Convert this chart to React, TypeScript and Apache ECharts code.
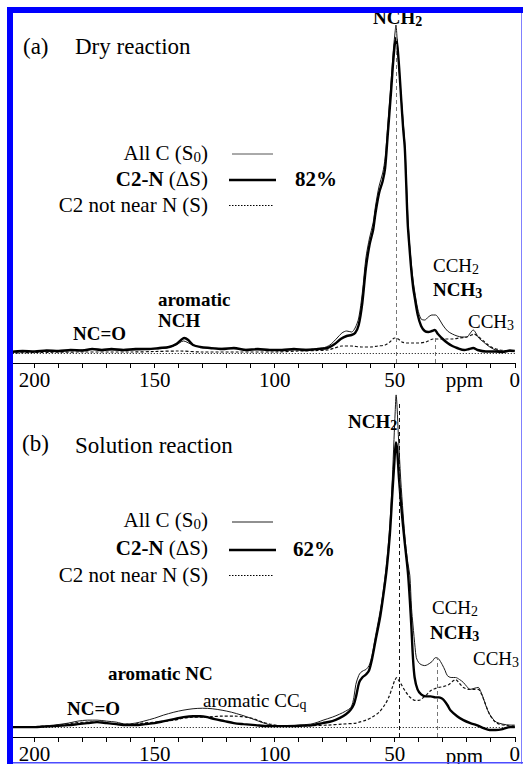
import React, { useEffect, useRef } from "react";
import * as echarts from "echarts";

// ---------- Panel (a): Dry reaction ----------
const ppmA_allC = [210, 200, 190, 180, 175, 170, 160, 150, 145, 141, 138, 135, 131, 125, 115, 105, 95, 85, 80, 77, 74, 72, 70, 68, 66.5, 65, 63.5, 62, 60.5, 59, 58, 56.5, 55, 54, 53, 51.5, 50.5, 49.8, 49.5, 49.1, 48.5, 47.5, 46.5, 45.8, 45.3, 44.6, 44, 43.1, 42.3, 41.7, 40.4, 39, 37.5, 36, 34.5, 33, 31.5, 30, 28, 26, 24, 22, 20, 18.5, 17.3, 16.2, 15, 13, 11, 8, 5, 2, 0];
const intA_allC = [1, 1.5, 2, 3, 4, 3, 3, 4, 5, 8, 12, 9, 6, 5, 4, 3, 3, 4, 5, 8, 15, 20, 22, 21, 25, 35, 60, 95, 115, 130, 147, 167, 180, 195, 225, 272, 305, 322, 328, 318, 295, 262, 232, 210, 182, 140, 115, 90, 72, 62, 44, 34, 33, 36, 38, 38, 34, 28, 22, 19, 17, 16, 16, 20, 23, 20, 15, 11, 7, 3, 2, 2, 2];

const ppmA_C2N = [210, 205, 200, 195, 190, 185, 180, 176, 172, 168, 163, 158, 153, 148, 144, 141, 139, 137.7, 136, 134, 131, 127, 122, 117, 112, 107, 102, 97, 92, 87, 82, 78, 75, 72.5, 70, 68, 66.5, 65, 63.5, 62, 60.5, 59, 58, 56.5, 55, 54, 53, 51.5, 50.5, 49.5, 48.8, 48, 47.2, 46.5, 45.8, 45.3, 44.6, 44, 43.1, 42.3, 41.7, 40.4, 39, 37.5, 36, 34.5, 33.3, 32, 30, 28, 26, 24, 21, 19, 17.3, 15.5, 12, 8, 5, 2, 0];
const intA_C2N = [1, 2, 1.5, 2.5, 2, 3, 2.5, 4, 3, 4, 3, 4, 4, 5, 6, 9, 13, 15, 13, 8, 6, 5, 4, 5, 3, 4, 3, 3, 4, 3, 4, 5, 9, 14, 17, 18, 20, 28, 50, 85, 108, 123, 140, 160, 172, 185, 215, 262, 295, 315, 305, 280, 250, 225, 205, 175, 130, 110, 83, 65, 56, 38, 27, 22, 21, 22, 23, 19, 14, 10, 7, 5, 3, 4, 5, 3, 1.5, 1.5, 1, 2.5, 2];

const ppmA_notN = [210, 200, 180, 160, 150, 140, 130, 115, 100, 90, 82, 78, 75, 72, 68, 64, 60, 57, 54, 52, 50, 48.5, 47, 45, 42, 40, 37, 34, 32, 29, 26, 23, 20, 18, 17, 15.5, 13, 11, 9, 6, 3, 0];
const intA_notN = [0, 0.5, 1, 1, 1.5, 2, 1, 1, 1, 2, 2.5, 3, 5, 7, 7, 6, 6, 7, 8, 11, 15, 14, 11, 10, 10, 10, 11, 14, 14, 14, 14, 15, 16, 18, 19, 17, 12, 8, 5, 3, 2, 1];

const markerPpmA = [49.5, 33.2];
const markerTopA = [320, 16];

// ---------- Panel (b): Solution reaction ----------
const ppmB_allC = [210, 200, 192, 186, 182, 178, 174, 170, 166, 162, 158, 154.5, 150, 146.4, 142, 138.2, 134, 130, 126, 121.9, 118, 113.7, 110, 105.6, 101.5, 95, 90, 85, 82, 79.8, 76, 73, 70.5, 68.2, 67, 66.2, 65, 64.2, 63, 62, 60.7, 59.5, 58, 56, 54.5, 53.3, 52, 51, 50.3, 49.8, 49.4, 49, 48.5, 47.5, 46.5, 45.5, 44.5, 43.7, 43, 42.4, 41.5, 41, 40, 39, 37.5, 36.3, 34.5, 33, 31.8, 30.2, 29, 28.1, 26.5, 24.7, 23, 21.4, 20, 18.6, 17, 15.2, 14.2, 13.2, 11.8, 10.5, 9, 7.7, 5, 2, 0];
const intB_allC = [0, 0.5, 2, 4, 6, 7, 7, 6, 5, 3, 4, 6, 9, 12, 15, 17, 18.5, 19, 18.5, 17, 15, 12, 9, 5, 2, 1, 2, 3, 5, 7, 10, 13, 16, 20, 30, 43, 52, 55, 57, 58, 62, 72, 92, 118, 143, 168, 205, 250, 290, 318, 335, 322, 295, 250, 215, 185, 165, 153, 120, 103, 80, 70, 65, 63, 62, 63, 66, 70, 69, 63, 57, 52, 50, 50, 48, 45, 41, 38, 39, 40, 36, 30, 20, 13, 8, 5, 3, 2, 2];

const ppmB_C2N = [210, 200, 192, 186, 182, 178, 174, 170, 166, 162, 158, 154, 150, 146, 142, 138, 134, 131, 128, 125, 121, 117, 113, 108, 103, 95, 88, 84, 80, 76, 73, 70.3, 68.5, 67, 66, 64.8, 63.5, 62, 60.7, 59.5, 58, 56, 54.5, 53.3, 52, 51, 50.2, 49.5, 49, 48.2, 47, 46, 45.1, 44.4, 43.7, 43.1, 42.4, 41.7, 40.5, 39, 37, 35, 33, 31.6, 30.5, 29.5, 28, 26.8, 24, 21.4, 18.5, 15.9, 13, 10.5, 8, 5, 2, 0];
const intB_C2N = [0, 0, 1, 2, 3, 4, 5, 4, 3, 2, 2, 3, 4, 6, 8, 10, 11, 11, 10, 8, 6, 4, 3, 2, 1, 1, 1.5, 2, 4, 6, 9, 13, 17, 23, 32, 45, 50, 53, 57, 68, 87, 112, 137, 160, 195, 235, 265, 287, 280, 250, 215, 190, 170, 153, 128, 103, 70, 50, 38, 33, 31, 31, 30, 30, 29, 27, 22, 17, 11, 7, 4, 2, -1, -3, -3, -2, 0, 0];

const ppmB_notN = [210, 200, 190, 184, 178, 172, 166, 160, 155, 150, 146, 142, 138, 134, 130, 126, 122, 116.4, 112, 108.3, 105, 102, 98, 90, 84, 78, 72, 66, 64.8, 62, 59.4, 56.5, 54, 52.5, 51, 50, 49.1, 48.3, 47, 45.8, 44, 42.5, 41.7, 40, 39, 37, 34.9, 33, 31.6, 29.5, 27.4, 26, 24.7, 23, 21.4, 19, 17, 15.2, 14, 12.5, 10.5, 8.5, 6.5, 3, 0];
const intB_notN = [0, 0.5, 2, 4, 5, 5, 3, 3, 4, 5, 6, 7, 9, 10, 10, 10.5, 11, 11, 10, 8, 5, 3, 1.5, 1, 1.5, 2, 3, 4, 5, 7, 10, 15, 23, 30, 40, 47, 50, 47, 42, 37, 31, 28, 27, 27, 28, 32, 37, 39, 40, 41, 43, 46, 48, 44, 40, 38, 38, 38, 34, 25, 13, 6, 3, 1.5, 1];

const markerPpmB = [48.3, 32.1];
const markerTopB = [327, 70];

const xTickValues = [200, 150, 100, 50, 0];

const FF = "Liberation Serif";

const zip = (xs: number[], ys: number[]) => xs.map((x, i) => [x, ys[i]]);

const rich = {
  n: { fontFamily: FF, fontSize: 21, lineHeight: 22, fill: "#000" },
  b: { fontFamily: FF, fontSize: 21, fontWeight: "bold", lineHeight: 22, fill: "#000" },
  s: { fontFamily: FF, fontSize: 15, lineHeight: 8, verticalAlign: "bottom", fill: "#000" },
  pn: { fontFamily: FF, fontSize: 19, lineHeight: 22, fill: "#000" },
  pb: { fontFamily: FF, fontSize: 19, fontWeight: "bold", lineHeight: 22, fill: "#000" },
  ps: { fontFamily: FF, fontSize: 14, lineHeight: 8, verticalAlign: "bottom", fill: "#000" },
  pbs: { fontFamily: FF, fontSize: 14, fontWeight: "bold", lineHeight: 8, verticalAlign: "bottom", fill: "#000" },
  t: { fontFamily: FF, fontSize: 23, lineHeight: 24, fill: "#000" },
};

function txt(x: number, y: number, text: string, align: string = "left") {
  return {
    type: "text",
    x,
    y,
    z: 20,
    silent: true,
    style: {
      text,
      rich,
      align,
      verticalAlign: "middle",
      textAlign: align,
      textVerticalAlign: "middle",
      fill: "#000",
      fontFamily: FF,
      fontSize: 21,
    },
  };
}

function seg(x1: number, y1: number, x2: number, y2: number, width: number, dash?: number[], color = "#000") {
  return {
    type: "line",
    z: 20,
    silent: true,
    shape: { x1, y1, x2, y2 },
    style: { stroke: color, lineWidth: width, lineDash: dash || null },
  };
}

function spectrumSeries(idx: number, allC: number[][], c2n: number[][], notN: number[][], mPpm: number[], mTop: number[], markerColors: string[]) {
  return [
    {
      type: "line",
      name: "All C",
      xAxisIndex: idx,
      yAxisIndex: idx,
      data: allC,
      showSymbol: false,
      smooth: 0.3,
      lineStyle: { color: "#1a1a1a", width: 1 },
      z: 3,
      markLine: {
        silent: true,
        symbol: "none",
        label: { show: false },
        data: [
          [
            { coord: [mPpm[0], -10], lineStyle: { color: markerColors[0], type: [4, 3], width: 1 } },
            { coord: [mPpm[0], mTop[0]] },
          ],
          [
            { coord: [mPpm[1], -10], lineStyle: { color: markerColors[1], type: [4, 3], width: 1 } },
            { coord: [mPpm[1], mTop[1]] },
          ],
          { yAxis: 0, lineStyle: { color: "#000", type: [1, 2], width: 1 } },
        ],
      },
    },
    {
      type: "line",
      name: "C2-N",
      xAxisIndex: idx,
      yAxisIndex: idx,
      data: c2n,
      showSymbol: false,
      smooth: 0.3,
      lineStyle: { color: "#000", width: 2.4 },
      z: 4,
    },
    {
      type: "line",
      name: "C2 not near N",
      xAxisIndex: idx,
      yAxisIndex: idx,
      data: notN,
      showSymbol: false,
      smooth: 0.3,
      lineStyle: { color: "#111", width: 1.2, type: [3, 2] },
      z: 2,
    },
  ];
}

function xAxisDef(gridIndex: number) {
  return {
    type: "value",
    gridIndex,
    min: 0,
    max: 210,
    interval: 10,
    inverse: true,
    axisLine: { show: true, onZero: false, lineStyle: { color: "#000", width: 1 } },
    axisTick: { show: true, length: 5, inside: false, lineStyle: { color: "#000", width: 1 } },
    splitLine: { show: false },
    axisLabel: {
      margin: 6,
      fontSize: 21,
      fontFamily: FF,
      color: "#000",
      formatter: (v: number) => (xTickValues.indexOf(v) >= 0 ? String(v) : ""),
    },
  };
}

export default function App() {
  const ref = useRef<HTMLDivElement>(null);

  useEffect(() => {
    if (!ref.current) return;
    const chart = echarts.init(ref.current, undefined, { renderer: "svg" });

    const graphics: any[] = [
      // Panel (a) texts
      txt(23, 46, "{t|(a)}"),
      txt(75, 46, "{t|Dry reaction}"),
      txt(208, 153, "{n|All C (S}{s|0}{n|)}", "right"),
      txt(208, 179, "{b|C2-N}{n| (ΔS)}", "right"),
      txt(208, 205, "{n|C2 not near N (S)}", "right"),
      seg(232, 154, 273, 154, 1, undefined, "#555"),
      seg(229, 180, 276, 180, 2.4),
      seg(229, 205.5, 274, 205.5, 1, [1.5, 1.5]),
      txt(295, 179, "{b|82%}"),
      txt(373, 17, "{pb|NCH}{pbs|2}"),
      txt(158, 299, "{pb|aromatic}"),
      txt(158, 320, "{pb|NCH}"),
      txt(73, 333, "{pb|NC=O}"),
      txt(433, 265, "{pn|CCH}{ps|2}"),
      txt(433, 289, "{pb|NCH}{pbs|3}"),
      txt(468, 321, "{pn|CCH}{ps|3}"),
      txt(464.5, 380, "{n|ppm}", "center"),
      // Panel (b) texts
      txt(22, 443, "{t|(b)}"),
      txt(75, 445, "{t|Solution reaction}"),
      txt(208, 520, "{n|All C (S}{s|0}{n|)}", "right"),
      txt(208, 548, "{b|C2-N}{n| (ΔS)}", "right"),
      txt(208, 575, "{n|C2 not near N (S)}", "right"),
      seg(232, 522, 273, 522, 1.2, undefined, "#222"),
      seg(229, 550, 276, 550, 2.4),
      seg(229, 575.5, 274, 575.5, 1, [1.5, 1.5]),
      txt(293, 549, "{b|62%}"),
      txt(348, 421, "{pb|NCH}{pbs|2}"),
      txt(108, 673, "{pb|aromatic NC}"),
      txt(203, 700, "{pn|aromatic CC}{ps|q}"),
      txt(67, 708, "{pb|NC=O}"),
      txt(432, 607, "{pn|CCH}{ps|2}"),
      txt(430, 632, "{pb|NCH}{pbs|3}"),
      txt(473, 658, "{pn|CCH}{ps|3}"),
      txt(464.5, 756, "{n|ppm}", "center"),
      // blue frame
      { type: "rect", z: 50, silent: true, shape: { x: 7, y: 7, width: 516, height: 6 }, style: { fill: "#0000ff" } },
      { type: "rect", z: 50, silent: true, shape: { x: 7, y: 7, width: 6, height: 757 }, style: { fill: "#0000ff" } },
      { type: "rect", z: 50, silent: true, shape: { x: 521, y: 13, width: 1, height: 751 }, style: { fill: "#8080ff" } },
      { type: "rect", z: 50, silent: true, shape: { x: 13, y: 762, width: 510, height: 1.5 }, style: { fill: "#4d4dff" } },
    ];

    chart.setOption({
      animation: false,
      backgroundColor: "#ffffff",
      textStyle: { fontFamily: FF },
      grid: [
        { left: 10.6, right: -2.7, top: 14, height: 349, containLabel: false },
        { left: 10.6, right: -2.7, top: 385, height: 355, containLabel: false },
      ],
      xAxis: [xAxisDef(0), xAxisDef(1)],
      yAxis: [
        { type: "value", gridIndex: 0, min: -10, max: 339, show: false, splitLine: { show: false } },
        { type: "value", gridIndex: 1, min: -10, max: 345, show: false, splitLine: { show: false } },
      ],
      series: [
        ...spectrumSeries(0, zip(ppmA_allC, intA_allC), zip(ppmA_C2N, intA_C2N), zip(ppmA_notN, intA_notN), markerPpmA, markerTopA, ["#777", "#777"]),
        ...spectrumSeries(1, zip(ppmB_allC, intB_allC), zip(ppmB_C2N, intB_C2N), zip(ppmB_notN, intB_notN), markerPpmB, markerTopB, ["#111", "#777"]),
      ],
      graphic: { elements: graphics },
    });

    return () => {
      chart.dispose();
    };
  }, []);

  return (
    <div
      ref={ref}
      style={{ position: "absolute", left: 0, top: 0, width: 523, height: 764, background: "#fff" }}
    />
  );
}
